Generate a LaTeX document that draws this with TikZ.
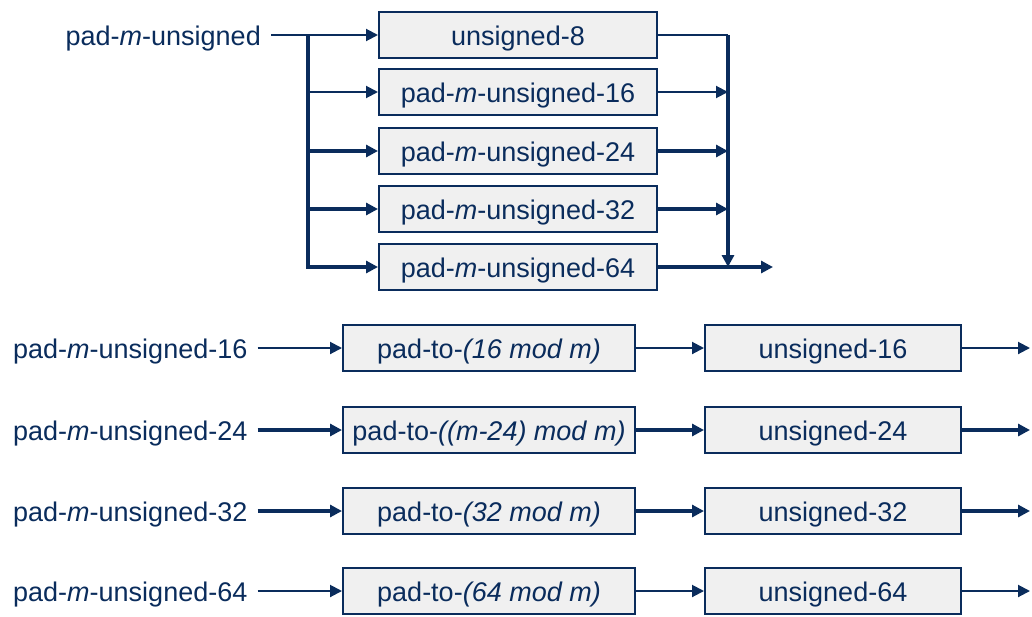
\documentclass[tikz,border=0pt]{standalone}
\usepackage{fontspec}
\setmainfont{Liberation Sans}
\usetikzlibrary{arrows.meta}
\definecolor{navy}{HTML}{0A2C5C}
\definecolor{boxgray}{HTML}{F0F0F0}

\begin{document}
\begin{tikzpicture}[x=1pt,y=-1pt,
    box/.style={draw=navy,fill=boxgray,line width=2pt,inner sep=0pt,minimum height=46pt,
        text=navy,text height=25pt,text depth=5pt,font=\fontsize{27}{30}\selectfont},
    lbl/.style={text=navy,inner sep=10pt,text height=25pt,text depth=5pt,
        font=\fontsize{27}{30}\selectfont},
    slim/.style={draw=navy,line width=2pt},
    wide/.style={draw=navy,line width=3.6pt},
    >={Triangle[length=12pt,width=12pt]}]
    \useasboundingbox (0,0) rectangle (1032,616);

    % top: splitting into the unsigned variants
    \node[lbl,anchor=east] (in) at (271,35) {pad-\textit{m}-unsigned};
    \node[box,minimum width=278pt] (b8)  at (518,35)  {unsigned-8};
    \node[box,minimum width=278pt] (b16) at (518,92)  {pad-\textit{m}-unsigned-16};
    \node[box,minimum width=278pt] (b24) at (518,151) {pad-\textit{m}-unsigned-24};
    \node[box,minimum width=278pt] (b32) at (518,209) {pad-\textit{m}-unsigned-32};
    \node[box,minimum width=278pt] (b64) at (518,267) {pad-\textit{m}-unsigned-64};
    \coordinate (split) at (308,35);
    \coordinate (join) at (728,35);
    \coordinate (out) at (773,267);

    \draw[slim,->] (in) -- (b8);
    \draw[wide,->] (split) |- (b64);
    \draw[slim,->] (split |- b16) -- (b16);
    \draw[wide,->] (split |- b24) -- (b24);
    \draw[wide,->] (split |- b32) -- (b32);

    \draw[slim] (b8) -- (join);
    \draw[wide,->] (join) -- (join |- b64);
    \draw[slim,->] (b16) -- (join |- b16);
    \draw[wide,->] (b24) -- (join |- b24);
    \draw[wide,->] (b32) -- (join |- b32);
    \draw[wide,->] (b64) -- (out);

    % bottom: one chain per width
    \node[lbl,anchor=west] (l16) at (3,348) {pad-\textit{m}-unsigned-16};
    \node[box,minimum width=292pt] (p16) at (489,348) {pad-to-\textit{(16 mod m)}};
    \node[box,minimum width=256pt] (u16) at (833,348) {unsigned-16};
    \coordinate (o16) at (1030,348);

    \node[lbl,anchor=west] (l24) at (3,430) {pad-\textit{m}-unsigned-24};
    \node[box,minimum width=292pt] (p24) at (489,430) {pad-to-\textit{((m-24) mod m)}};
    \node[box,minimum width=256pt] (u24) at (833,430) {unsigned-24};
    \coordinate (o24) at (1030,430);

    \node[lbl,anchor=west] (l32) at (3,511) {pad-\textit{m}-unsigned-32};
    \node[box,minimum width=292pt] (p32) at (489,511) {pad-to-\textit{(32 mod m)}};
    \node[box,minimum width=256pt] (u32) at (833,511) {unsigned-32};
    \coordinate (o32) at (1030,511);

    \node[lbl,anchor=west] (l64) at (3,591) {pad-\textit{m}-unsigned-64};
    \node[box,minimum width=292pt] (p64) at (489,591) {pad-to-\textit{(64 mod m)}};
    \node[box,minimum width=256pt] (u64) at (833,591) {unsigned-64};
    \coordinate (o64) at (1030,591);

    \draw[slim,->] (l16) -- (p16);
    \draw[slim,->] (p16) -- (u16);
    \draw[slim,->] (u16) -- (o16);
    \draw[wide,->] (l24) -- (p24);
    \draw[wide,->] (p24) -- (u24);
    \draw[wide,->] (u24) -- (o24);
    \draw[wide,->] (l32) -- (p32);
    \draw[wide,->] (p32) -- (u32);
    \draw[wide,->] (u32) -- (o32);
    \draw[slim,->] (l64) -- (p64);
    \draw[slim,->] (p64) -- (u64);
    \draw[slim,->] (u64) -- (o64);
\end{tikzpicture}
\end{document}
